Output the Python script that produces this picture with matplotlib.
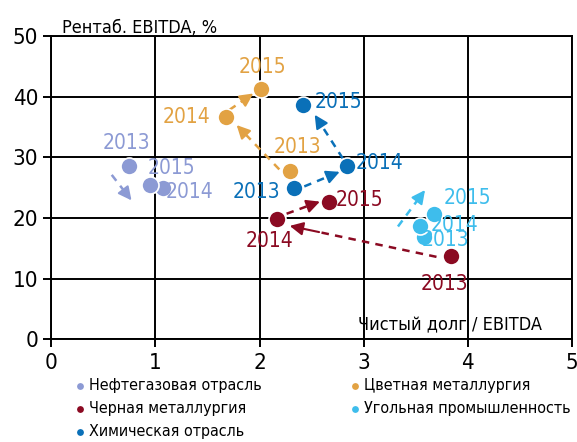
import matplotlib

matplotlib.use("Agg")
import matplotlib.pyplot as plt
from matplotlib import font_manager

# --- data ---
years = ["2013", "2014", "2015"]
names = ["Нефтегазовая отрасль", "Черная металлургия", "Химическая отрасль",
         "Цветная металлургия", "Угольная промышленность"]
colors = ["#8C9AD4", "#8B0A22", "#0A70B8", "#E2A243", "#3EBDEC"]

# net debt / EBITDA, by year 2013, 2014, 2015
debt = [
    [0.75, 1.07, 0.95],
    [3.84, 2.17, 2.67],
    [2.33, 2.84, 2.42],
    [2.29, 1.68, 2.01],
    [3.58, 3.54, 3.68],
]
# EBITDA margin, %
margin = [
    [28.6, 25.0, 25.4],
    [13.8, 19.9, 22.6],
    [24.9, 28.6, 38.6],
    [27.8, 36.6, 41.2],
    [16.9, 18.7, 20.6],
]
# year label positions (x, y) for 2013, 2014, 2015
label_pos = [
    [(0.72, 32.3), (1.33, 24.3), (1.15, 28.2)],
    [(3.78, 9.2), (2.10, 16.2), (2.96, 23.0)],
    [(1.97, 24.2), (3.15, 29.1), (2.76, 39.1)],
    [(2.36, 31.7), (1.30, 36.6), (2.03, 44.9)],
    [(3.79, 16.4), (3.87, 18.9), (4.00, 23.3)],
]
# direction arrows (x0, y0, x1, y1)
arrows = [
    [(0.58, 27.1, 0.77, 22.9)],
    [(3.70, 13.6, 2.29, 18.7), (2.26, 20.7, 2.58, 22.7)],
    [(2.43, 25.2, 2.77, 27.6), (2.80, 29.8, 2.53, 37.0)],
    [(2.19, 28.0, 1.78, 35.3), (1.71, 37.8, 1.94, 40.5)],
    [(3.33, 18.6, 3.59, 24.6)],
]


def _pick_font():
    # prefer a narrow / condensed face (the original uses a condensed font)
    wanted = ["LiberationSansNarrow-Regular", "DejaVuSansCondensed.ttf",
              "RobotoCondensed-Regular", "OpenSans_Condensed-Regular",
              "NotoSansDisplay-Condensed", "LiberationSans-Regular"]
    files = [f.fname for f in font_manager.fontManager.ttflist]
    for w in wanted:
        for fn in files:
            if w in fn:
                return font_manager.FontProperties(fname=fn)
    return font_manager.FontProperties(family="DejaVu Sans", stretch="condensed")


fp = _pick_font()


def _fp(size):
    p = fp.copy()
    p.set_size(size)
    return p


fig = plt.figure(figsize=(5.77, 4.42), dpi=100)
ax = fig.add_axes([0.089, 0.232, 0.902, 0.687])

for i in range(len(names)):
    c = colors[i]
    for (x0, y0, x1, y1) in arrows[i]:
        # dashed shaft, then a solid head
        fx = x0 + (x1 - x0) * 0.8
        fy = y0 + (y1 - y0) * 0.8
        ax.plot([x0, fx], [y0, fy], color=c, lw=1.8, ls=(0, (3, 2.5)), zorder=3)
        ax.annotate("", xy=(x1, y1), xytext=(fx, fy),
                    arrowprops=dict(arrowstyle="-|>", color=c, lw=1.5,
                                    mutation_scale=20, shrinkA=0, shrinkB=0),
                    zorder=3)
    ax.scatter(debt[i], margin[i], s=150, color=c, edgecolors="white",
               linewidths=1.2, zorder=4, label=names[i])
    for j, yr in enumerate(years):
        lx, ly = label_pos[i][j]
        ax.text(lx, ly, yr, color=c, fontproperties=_fp(15), ha="center",
                va="center", zorder=5)

ax.set_xlim(0, 5)
ax.set_ylim(0, 50)
ax.set_xticks(range(0, 6))
ax.set_yticks(range(0, 51, 10))
ax.grid(True, color="black", lw=1.4)
ax.set_axisbelow(True)
for s in ax.spines.values():
    s.set_color("black")
    s.set_linewidth(1.4)
ax.tick_params(axis="both", length=6, width=1.4, color="black")
for lab in ax.get_xticklabels() + ax.get_yticklabels():
    lab.set_fontproperties(_fp(16))

ax.text(0.02, 1.01, "Рентаб. EBITDA, %", transform=ax.transAxes,
        fontproperties=_fp(13), ha="left", va="baseline")
ax.text(3.83, 2.4, "Чистый долг / EBITDA", fontproperties=_fp(13),
        ha="center", va="center")

# legend below the plot, two columns
leg = ax.legend(loc="upper left", bbox_to_anchor=(0.027, -0.105), ncol=2,
                frameon=False, prop=_fp(11.5), markerscale=0.5, handletextpad=0.1,
                handlelength=1.0, labelspacing=0.5, columnspacing=5.3,
                borderaxespad=0)

fig.savefig("out.png", dpi=100)
